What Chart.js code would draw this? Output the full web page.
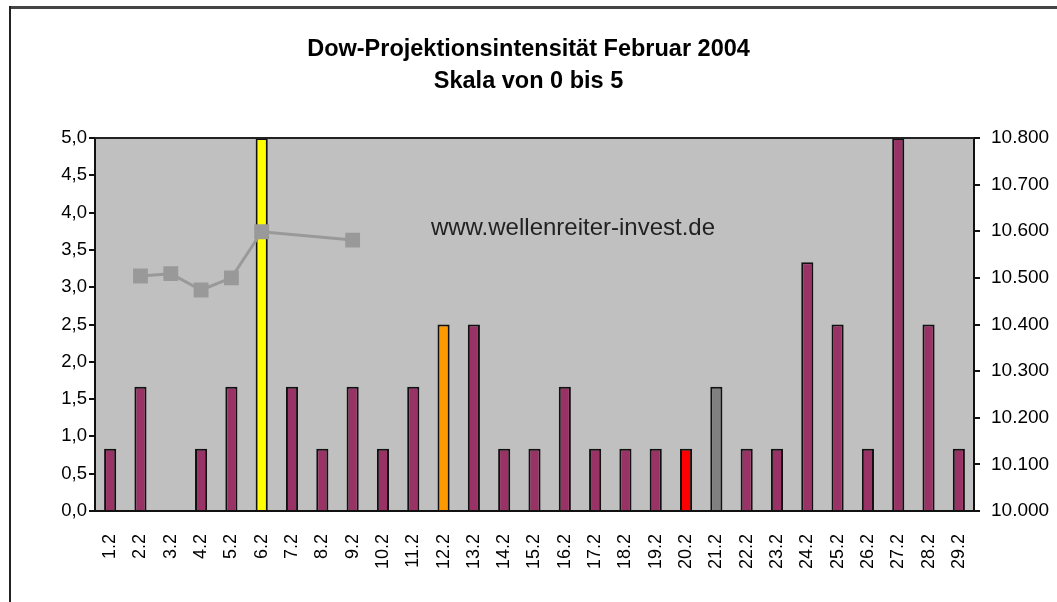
<!DOCTYPE html>
<html>
<head>
<meta charset="utf-8">
<script src="https://cdn.jsdelivr.net/npm/chart.js@4.4.0/dist/chart.umd.min.js"></script>
<style>
  html, body { margin: 0; padding: 0; background: #ffffff; }
  #wrap { width: 1057px; height: 602px; position: relative; }
  canvas { display: block; }
</style>
</head>
<body>
<div id="wrap"><canvas id="c" width="1057" height="602"></canvas></div>
<script>
// ---- data ----
const categories = ['1.2','2.2','3.2','4.2','5.2','6.2','7.2','8.2','9.2','10.2','11.2','12.2','13.2','14.2','15.2','16.2','17.2','18.2','19.2','20.2','21.2','22.2','23.2','24.2','25.2','26.2','27.2','28.2','29.2'];
const intensity = [0.833,1.667,0,0.833,1.667,5,1.667,0.833,1.667,0.833,1.667,2.5,2.5,0.833,0.833,1.667,0.833,0.833,0.833,0.833,1.667,0.833,0.833,3.333,2.5,0.833,5,2.5,0.833];
const dowClose = [null,10504,10509,10474,10500,10599,null,null,10581,null,null,null,null,null,null,null,null,null,null,null,null,null,null,null,null,null,null,null,null];
const titleLines = ['Dow-Projektionsintensität Februar 2004', 'Skala von 0 bis 5'];
const watermark = 'www.wellenreiter-invest.de';

// ---- styles ----
const PURPLE = '#993366';
const specialColors = { '6.2': '#FFFF00', '12.2': '#FF9900', '20.2': '#FF0000', '21.2': '#808080' };
const barColors = categories.map(c => specialColors[c] || PURPLE);
const FONT = "'Liberation Sans', Arial, sans-serif";

const decor = {
  id: 'decor',
  beforeDraw(chart) {
    const {ctx, chartArea: a} = chart;
    ctx.save();
    ctx.fillStyle = '#ffffff';
    ctx.fillRect(0, 0, chart.width, chart.height);
    // frame
    ctx.fillStyle = '#444444';
    ctx.fillRect(10, 6, chart.width - 10, 3);
    ctx.fillStyle = '#222222';
    ctx.fillRect(9, 6, 2, chart.height - 6);
    // plot background
    ctx.fillStyle = '#C0C0C0';
    ctx.fillRect(a.left, a.top, a.right - a.left, a.bottom - a.top);
    ctx.restore();
  },
  afterDatasetsDraw(chart) {
    const {ctx, chartArea: a} = chart;
    ctx.save();
    ctx.strokeStyle = '#222222';
    ctx.lineWidth = 2;
    ctx.beginPath();
    ctx.moveTo(a.left, a.top);
    ctx.lineTo(a.right, a.top);
    ctx.stroke();
    ctx.fillStyle = '#222222';
    ctx.font = '24px ' + FONT;
    ctx.textAlign = 'center';
    ctx.textBaseline = 'middle';
    ctx.fillText(watermark, 573, 228);
    ctx.restore();
  }
};

new Chart(document.getElementById('c'), {
  data: {
    labels: categories,
    datasets: [
      {
        type: 'line',
        label: 'Dow',
        data: dowClose,
        yAxisID: 'yR',
        order: 0,
        borderColor: '#999999',
        backgroundColor: '#999999',
        borderWidth: 3,
        pointStyle: 'rect',
        pointRadius: 10.5,
        pointHoverRadius: 10.5,
        pointBorderWidth: 0,
        spanGaps: true,
        tension: 0
      },
      {
        type: 'bar',
        label: 'Intensität',
        data: intensity,
        yAxisID: 'yL',
        order: 1,
        backgroundColor: barColors,
        borderColor: '#111111',
        borderWidth: 2,
        categoryPercentage: 1,
        barPercentage: 0.4
      }
    ]
  },
  options: {
    responsive: false,
    animation: false,
    events: [],
    layout: { padding: 0 },
    plugins: {
      legend: { display: false },
      tooltip: { enabled: false },
      title: {
        display: true,
        text: titleLines,
        color: '#000000',
        font: { family: FONT, size: 23.5, weight: 'bold', lineHeight: 32/23.5 },
        padding: { top: 34, bottom: 40 }
      }
    },
    scales: {
      x: {
        grid: { display: false },
        border: { display: true, color: '#111111', width: 2 },
        ticks: {
          color: '#000000',
          font: { family: FONT, size: 18 },
          minRotation: 90, maxRotation: 90,
          autoSkip: false,
          padding: 15
        },
        afterFit(s) { s.height = 91; }
      },
      yL: {
        position: 'left',
        min: 0, max: 5,
        grid: { drawOnChartArea: false, drawTicks: true, tickLength: 6, color: '#111111', lineWidth: 2 },
        border: { display: true, color: '#111111', width: 2 },
        ticks: {
          stepSize: 0.5,
          color: '#000000',
          font: { family: FONT, size: 18.5 },
          padding: 2,
          callback: v => v.toFixed(1).replace('.', ',')
        },
        afterFit(s) { s.width = 95; }
      },
      yR: {
        position: 'right',
        min: 10000, max: 10800,
        grid: { drawOnChartArea: false, drawTicks: true, tickLength: 6, color: '#111111', lineWidth: 2 },
        border: { display: true, color: '#111111', width: 2 },
        ticks: {
          stepSize: 100,
          color: '#000000',
          font: { family: FONT, size: 19 },
          padding: 11,
          callback: v => (v / 1000).toFixed(3)
        },
        afterFit(s) { s.width = 83; }
      }
    }
  },
  plugins: [decor]
});
</script>
</body>
</html>
